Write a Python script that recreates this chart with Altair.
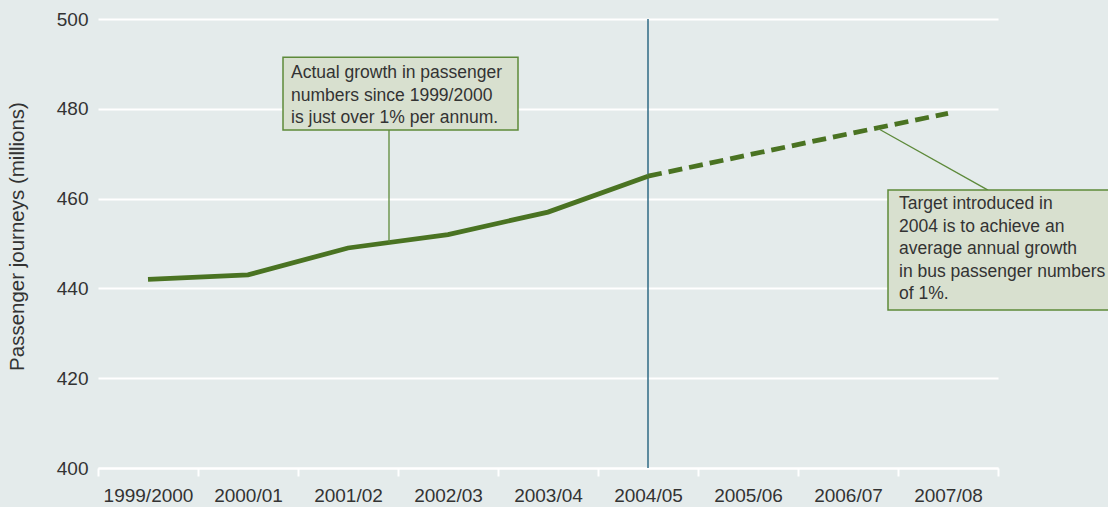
import altair as alt
import pandas as pd

# ---- data ----
seasons = ["1999/2000", "2000/01", "2001/02", "2002/03", "2003/04",
           "2004/05", "2005/06", "2006/07", "2007/08"]
actual_seasons = seasons[:6]
actual_values = [442, 443, 449, 452, 457, 465]
target_seasons = seasons[5:]
target_values = [465, 469.7, 474.4, 479]
target_year = "2004/05"

note1_lines = ["Actual growth in passenger", "numbers since 1999/2000",
               "is just over 1% per annum."]
note2_lines = ["Target introduced in", "2004 is to achieve an",
               "average annual growth", "in bus passenger numbers", "of 1%."]

# annotation geometry, in data units (x: 0..9 category index space, y: millions)
box1 = {"x": 1.85, "x2": 4.20, "y": 491.5, "y2": 475.3}
lead1 = {"x": 2.91, "y": 475.3, "y2": 450.3}
box2 = {"x": 7.90, "x2": 10.6, "y": 461.9, "y2": 435.2}
lead2 = {"x": 7.80, "x2": 8.90, "y": 475.6, "y2": 461.9}
note_x = [1.93, 8.01]
note_y = [489.9, 460.7]

FONT = "Liberation Sans"
TEXT = "#333333"
GREEN = "#4a7322"
BOX_FILL = "#d8e0cf"
BOX_EDGE = "#5d8a3a"
RULE = "#2f6a84"
BG = "#e4ebeb"

actual_df = pd.DataFrame({"season": actual_seasons, "journeys": actual_values})
target_df = pd.DataFrame({"season": target_seasons, "journeys": target_values})

x_scale = alt.Scale(type="band", domain=seasons, paddingInner=0, paddingOuter=0)
y_scale = alt.Scale(domain=[400, 500], nice=False, zero=False)

x_axis = alt.Axis(title=None, labelAngle=0, labelAlign="center", tickBand="extent", ticks=True,
                  tickColor="white", tickSize=8, tickWidth=2,
                  domain=True, domainColor="white", domainWidth=2,
                  labelFont=FONT, labelFontSize=19, labelColor=TEXT,
                  labelPadding=10, grid=False)
y_axis = alt.Axis(title="Passenger journeys (millions)", values=[400, 420, 440, 460, 480, 500],
                  grid=True, gridColor="white", gridWidth=2, domain=False, ticks=False,
                  labelFont=FONT, labelFontSize=19, labelColor=TEXT, labelPadding=10,
                  titleFont=FONT, titleFontSize=20.5, titleColor=TEXT,
                  titleFontWeight="normal", titleAngle=270, titleAlign="center",
                  titleBaseline="middle", titleX=-81, titleY=217)

solid = alt.Chart(actual_df).mark_line(color=GREEN, strokeWidth=4.8).encode(
    x=alt.X("season:N", sort=seasons, scale=x_scale, axis=x_axis, bandPosition=0.5),
    y=alt.Y("journeys:Q", scale=y_scale, axis=y_axis),
)
dashed = alt.Chart(target_df).mark_line(color=GREEN, strokeWidth=4.8,
                                        strokeDash=[14, 7]).encode(
    x=alt.X("season:N", sort=seasons, scale=x_scale, axis=x_axis, bandPosition=0.5),
    y=alt.Y("journeys:Q", scale=y_scale, axis=y_axis),
)
vrule = alt.Chart(pd.DataFrame({"season": [target_year], "lo": [400], "hi": [500]})).mark_rule(
    color=RULE, strokeWidth=1.5).encode(
    x=alt.X("season:N", sort=seasons, scale=x_scale, axis=x_axis, bandPosition=0.5),
    y=alt.Y("lo:Q", scale=y_scale, axis=y_axis),
    y2="hi:Q",
)

main = alt.layer(vrule, solid, dashed)

qx = alt.Scale(domain=[0, 9], nice=False, zero=False)

boxes_df = pd.DataFrame([box1, box2])
boxes = alt.Chart(boxes_df).mark_rect(fill=BOX_FILL, stroke=BOX_EDGE, strokeWidth=1.5).encode(
    x=alt.X("x:Q", scale=qx, axis=None), x2="x2:Q",
    y=alt.Y("y:Q", scale=y_scale, axis=y_axis), y2="y2:Q",
)
leads_df = pd.DataFrame([
    {"x": lead1["x"], "x2": lead1["x"], "y": lead1["y"], "y2": lead1["y2"]},
    lead2,
])
leads = alt.Chart(leads_df).mark_rule(color=BOX_EDGE, strokeWidth=1.3).encode(
    x=alt.X("x:Q", scale=qx, axis=None), x2="x2:Q",
    y=alt.Y("y:Q", scale=y_scale, axis=y_axis), y2="y2:Q",
)
notes_df = pd.DataFrame({
    "x": note_x,
    "y": note_y,
    "txt": [note1_lines, note2_lines],
})
notes = alt.Chart(notes_df).mark_text(align="left", baseline="top", font=FONT,
                                      fontSize=17.5, color=TEXT, lineHeight=22.5).encode(
    x=alt.X("x:Q", scale=qx, axis=None),
    y=alt.Y("y:Q", scale=y_scale, axis=y_axis),
    text="txt",
)

chart = alt.layer(main, leads, boxes, notes).resolve_scale(x="independent").properties(
    width=900, height=449,
    autosize=alt.AutoSizeParams(type="none"),
    padding={"left": 98, "top": 19, "right": 110, "bottom": 39},
    background=BG,
).configure_view(stroke=None)

chart.save("out.html", embed_options={"renderer": "svg", "actions": False})
